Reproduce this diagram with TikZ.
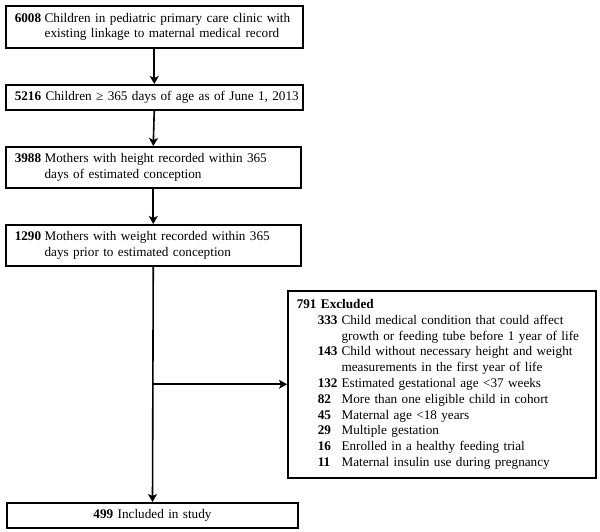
\documentclass[tikz,border=0pt]{standalone}
\usepackage{fontspec}
\setmainfont{Liberation Serif}
\usetikzlibrary{arrows.meta}
\begin{document}
\begin{tikzpicture}[x=1pt,y=-1pt,
  box/.style={draw,line width=1.5pt,anchor=north west,inner xsep=9pt,inner ysep=0pt,
    font=\fontsize{13.2}{15.8}\selectfont,align=left},
  flow/.style={line width=1.6pt,-{Stealth[length=8pt,width=9pt,inset=2pt]}}]
\useasboundingbox (0,0) rectangle (600,531);
\node[box,text width=279pt,minimum height=42pt] (b1) at (5,5)
 {\begin{tabular}{@{}l@{\hspace{3.5pt}}l@{}}\textbf{6008} & Children in pediatric primary care clinic with\\ & existing linkage to maternal medical record\end{tabular}};
\node[box,text width=279pt,minimum height=25pt] (b2) at (5,84)
 {\mbox{\textbf{5216} Children ≥ 365 days of age as of June 1, 2013}};
\node[box,text width=277pt,minimum height=41pt] (b3) at (5,146)
 {\begin{tabular}{@{}l@{\hspace{3.5pt}}l@{}}\textbf{3988} & Mothers with height recorded within 365\\ & days of estimated conception\end{tabular}};
\node[box,text width=277pt,minimum height=41pt] (b4) at (5,224)
 {\begin{tabular}{@{}l@{\hspace{3.5pt}}l@{}}\textbf{1290} & Mothers with weight recorded within 365\\ & days prior to estimated conception\end{tabular}};
\node[box,text width=290pt,minimum height=187pt] (ex) at (287,290)
 {\begin{tabular}{@{}p{21pt}@{}l@{\hspace{4pt}}l@{}}
 \multicolumn{3}{@{}l@{}}{\textbf{791 Excluded}}\\
 & \textbf{333} & Child medical condition that could affect\\
 & & growth or feeding tube before 1 year of life\\
 & \textbf{143} & Child without necessary height and weight\\
 & & measurements in the first year of life\\
 & \textbf{132} & Estimated gestational age <37 weeks\\
 & \textbf{82} & More than one eligible child in cohort\\
 & \textbf{45} & Maternal age <18 years\\
 & \textbf{29} & Multiple gestation\\
 & \textbf{16} & Enrolled in a healthy feeding trial\\
 & \textbf{11} & Maternal insulin use during pregnancy
 \end{tabular}};
\node[box,anchor=north,align=center,text width=273pt,minimum height=25pt] (b6) at (152.5,502)
 {\textbf{499} Included in study};
\draw[flow] (b1.south) -- (b2.north);
\draw[flow] (b2.south) -- (b3.north);
\draw[flow] (b3.south) -- (b4.north);
\draw[flow] (b4.south) -- (b6.north);
\coordinate (split) at (b4.south |- ex.west);
\draw[flow] (split) -- (ex.west);
\end{tikzpicture}
\end{document}
